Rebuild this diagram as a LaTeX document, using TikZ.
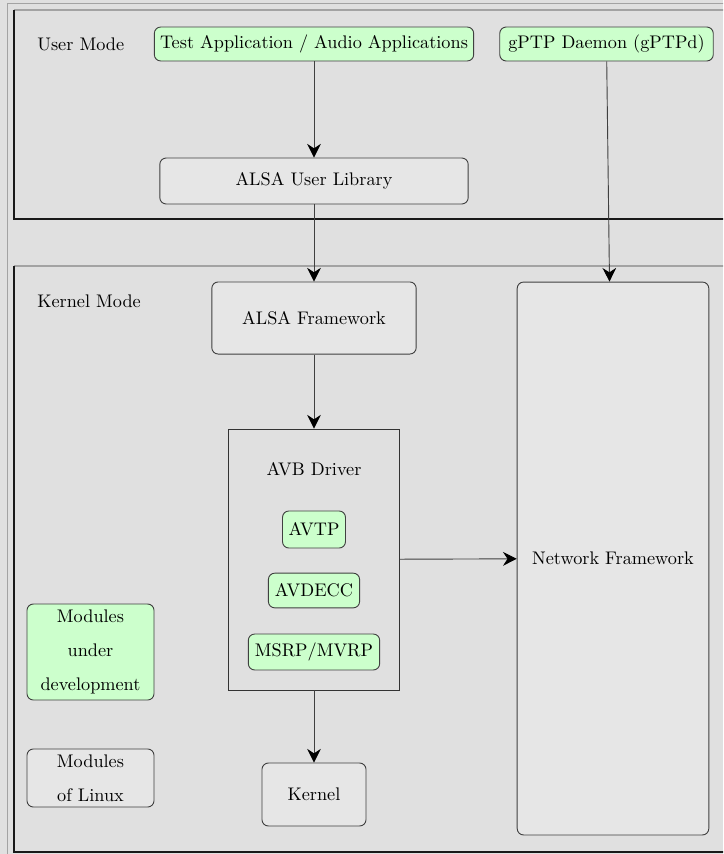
\documentclass[tikz,border=0pt]{standalone}
\usepackage{tikz}
\usepackage{xcolor}
\usetikzlibrary{arrows.meta,positioning}

\definecolor{bggray}{HTML}{E0E0E0}
\definecolor{boxgray}{HTML}{E6E6E6}
\definecolor{modgreen}{HTML}{CCFFCC}
\definecolor{framegray}{HTML}{A3A3A3}

\begin{document}
\begin{tikzpicture}[x=0.548pt, y=-0.548pt,
    gbox/.style={draw=black!75, fill=modgreen, rounded corners=3.5pt, inner sep=2pt, line width=0.5pt},
    wbox/.style={draw=black!75, fill=boxgray, rounded corners=3.5pt, inner sep=2pt, line width=0.5pt},
    arr/.style={-{Stealth[length=7.5pt,width=7.5pt,color=black]}, draw=black!75, line width=0.5pt},
    modeline/.style={line width=0.8pt},
    modelabel/.style={anchor=west, inner sep=0pt}]
    % Page and outer frame
    \useasboundingbox (0,0) rectangle (723,854);
    \clip (0,0) rectangle (723,854);
    \fill[bggray] (0,0) rectangle (723,854);
    \draw[framegray, line width=1pt] (7.5,900) -- (7.5,3.5) -- (760,3.5);

    % User mode area
    \draw[framegray, modeline] (14,10) -- (760,10);
    \draw[black!90, modeline] (14,10) -- (14,219) -- (760,219);
    \node[modelabel] (usermode) at (37,44) {User Mode};

    % Kernel mode area
    \draw[framegray, modeline] (14,266) -- (760,266);
    \draw[black!90, modeline] (14,266) -- (14,852) -- (760,852);
    \node[modelabel] (kernelmode) at (37,301) {Kernel Mode};

    % User space components
    \node[gbox, minimum width=175pt, minimum height=18.6pt] (testapp) at (314,44) {Test Application / Audio Applications};
    \node[gbox, minimum width=117pt, minimum height=18.6pt] (gptp) at (606.5,44) {gPTP Daemon (gPTPd)};
    \node[wbox, minimum width=169pt, minimum height=25.2pt] (alsauser) at (314,181) {ALSA User Library};

    % Kernel components
    \node[wbox, minimum width=112pt, minimum height=39.5pt] (alsafw) at (314,318) {ALSA Framework};
    \node[draw=black!80, line width=0.5pt, minimum width=93.7pt, minimum height=143pt] (avb) at (314,559.5) {};
    \node (avbtitle) at (314,469) {AVB Driver};
    \node[gbox, minimum width=34.5pt, minimum height=20.3pt] (avtp) at (314,529.5) {AVTP};
    \node[gbox, minimum width=50pt, minimum height=19pt] (avdecc) at (314,590.5) {AVDECC};
    \node[gbox, minimum width=72pt, minimum height=19.7pt] (msrp) at (314,652) {MSRP/MVRP};
    \node[wbox, minimum width=57pt, minimum height=34.5pt] (kernel) at (314,794.5) {Kernel};
    \node[wbox, minimum width=105pt, minimum height=303pt] (netfw) at (613,558.5) {Network Framework};

    % Legend
    \node[gbox, minimum width=69.6pt, minimum height=52.6pt, align=center] (moddev) at (90.5,652) {Modules\\[6.6pt]under\\[6.6pt]development};
    \node[wbox, minimum width=69.6pt, minimum height=31.8pt, align=center] (modlinux) at (90.5,778) {Modules\\[6.6pt]of Linux};

    % Connections
    \draw[arr] (testapp) -- (alsauser);
    \draw[arr] (alsauser) -- (alsafw);
    \draw[arr] (gptp) -- (netfw);
    \draw[arr] (alsafw) -- (avb);
    \draw[arr] (avb) -- (kernel);
    \draw[arr] (avb) -- (netfw);
\end{tikzpicture}
\end{document}
